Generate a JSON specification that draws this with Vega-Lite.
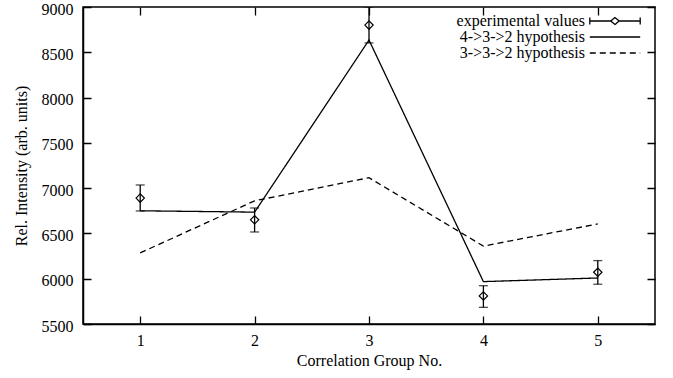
{
  "$schema": "https://vega.github.io/schema/vega-lite/v6.json",
  "width": 572,
  "height": 317,
  "autosize": {"type": "none"},
  "padding": {"left": 83, "top": 7, "right": 18, "bottom": 54},
  "background": "white",
  "config": {
    "view": {"stroke": "black", "strokeWidth": 1.5},
    "font": "Liberation Serif",
    "axis": {
      "domainColor": "black",
      "domainWidth": 1.5,
      "ticks": false,
      "grid": true,
      "gridColor": "black",
      "gridOpacity": 1,
      "gridWidth": 1.3,
      "labelFont": "Liberation Serif",
      "labelFontSize": 16,
      "labelColor": "black",
      "titleFont": "Liberation Serif",
      "titleFontSize": 16,
      "titleFontWeight": "normal",
      "titleColor": "black"
    }
  },
  "datasets": {
    "exp": [
      {"group": 1, "value": 6890, "lo": 6748, "hi": 7035},
      {"group": 2, "value": 6650, "lo": 6516, "hi": 6781},
      {"group": 3, "value": 8800, "lo": 8603, "hi": 9000},
      {"group": 4, "value": 5810, "lo": 5684, "hi": 5923},
      {"group": 5, "value": 6071, "lo": 5939, "hi": 6200}
    ],
    "hyp": [
      {"group": 1, "value": 6750, "series": "4->3->2 hypothesis"},
      {"group": 2, "value": 6735, "series": "4->3->2 hypothesis"},
      {"group": 3, "value": 8635, "series": "4->3->2 hypothesis"},
      {"group": 4, "value": 5968, "series": "4->3->2 hypothesis"},
      {"group": 5, "value": 6008, "series": "4->3->2 hypothesis"},
      {"group": 1, "value": 6285, "series": "3->3->2 hypothesis"},
      {"group": 2, "value": 6860, "series": "3->3->2 hypothesis"},
      {"group": 3, "value": 7115, "series": "3->3->2 hypothesis"},
      {"group": 4, "value": 6360, "series": "3->3->2 hypothesis"},
      {"group": 5, "value": 6605, "series": "3->3->2 hypothesis"}
    ]
  },
  "layer": [
    {
      "data": {"name": "hyp"},
      "mark": {"type": "line", "color": "black", "strokeWidth": 1.3, "clip": true},
      "encoding": {
        "x": {
          "field": "group", "type": "quantitative",
          "scale": {"domain": [0.5, 5.5], "nice": false, "zero": false},
          "axis": {"orient": "bottom", "values": [1, 2, 3, 4, 5], "format": "d", "labelFlush": false, "labelPadding": 8, "gridDash": [8, 301, 8, 400], "title": "Correlation Group No.", "titlePadding": 4}
        },
        "y": {
          "field": "value", "type": "quantitative",
          "scale": {"domain": [5500, 9000], "nice": false, "zero": false},
          "axis": {"orient": "left", "values": [5500, 6000, 6500, 7000, 7500, 8000, 8500, 9000], "format": "d", "labelFlush": false, "labelPadding": 10, "labelOffset": 2, "gridDash": [8, 556, 8, 700], "title": "Rel. Intensity (arb. units)", "titlePadding": 12}
        },
        "strokeDash": {
          "field": "series", "type": "nominal",
          "scale": {
            "domain": ["experimental values", "4->3->2 hypothesis", "3->3->2 hypothesis"],
            "range": [[1, 0], [1, 0], [6, 4]]
          },
          "legend": {
            "title": null,
            "orient": "none",
            "legendX": 524,
            "legendY": 6,
            "symbolType": "stroke",
            "symbolSize": 196,
            "symbolStrokeColor": "black",
            "symbolStrokeWidth": 1.3,
            "labelFont": "Liberation Serif",
            "labelFontSize": 16,
            "labelColor": "black",
            "labelAlign": "right",
            "labelOffset": -38,
            "labelLimit": 0,
            "rowPadding": 0,
            "padding": 0,
            "encode": {
              "symbols": {
                "update": {
                  "shape": {"signal": "datum.value === 'experimental values' ? 'M-3.6,0L-0.6,0M0.6,0L3.6,0M-3.6,-0.5L-3.6,0.5M3.6,-0.5L3.6,0.5M0,-0.5L0.6,0L0,0.5L-0.6,0Z' : 'M-3.6,0L3.6,0'"}
                }
              }
            }
          }
        }
      }
    },
    {
      "data": {"name": "exp"},
      "mark": {"type": "rule", "color": "black", "strokeWidth": 1.3, "clip": true},
      "encoding": {
        "x": {"field": "group", "type": "quantitative"},
        "y": {"field": "lo", "type": "quantitative"},
        "y2": {"field": "hi"}
      }
    },
    {
      "data": {"name": "exp"},
      "mark": {"type": "tick", "color": "black", "orient": "horizontal", "size": 9, "thickness": 1.3, "clip": true},
      "encoding": {
        "x": {"field": "group", "type": "quantitative"},
        "y": {"field": "lo", "type": "quantitative"}
      }
    },
    {
      "data": {"name": "exp"},
      "mark": {"type": "tick", "color": "black", "orient": "horizontal", "size": 9, "thickness": 1.3, "clip": true},
      "encoding": {
        "x": {"field": "group", "type": "quantitative"},
        "y": {"field": "hi", "type": "quantitative"}
      }
    },
    {
      "data": {"name": "exp"},
      "mark": {"type": "point", "shape": "diamond", "filled": false, "color": "black", "strokeWidth": 1.2, "size": 70, "opacity": 1, "clip": true},
      "encoding": {
        "x": {"field": "group", "type": "quantitative"},
        "y": {"field": "value", "type": "quantitative"}
      }
    }
  ]
}
